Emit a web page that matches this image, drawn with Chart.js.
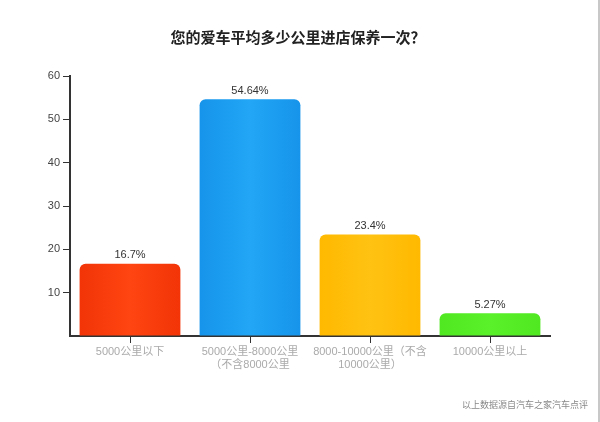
<!DOCTYPE html>
<html>
<head>
<meta charset="utf-8">
<script src="https://cdn.jsdelivr.net/npm/chart.js@4.4.1/dist/chart.umd.min.js"></script>
<style>
    html, body { margin: 0; padding: 0; background: #fff; }
    #wrap { position: relative; width: 600px; height: 422px; overflow: hidden; }
    #title {
        position: absolute; left: 0; top: 27px; width: 596px; text-align: center;
        font: bold 15px "Noto Sans CJK SC", sans-serif; color: #222; line-height: 20px;
    }
    #source {
        position: absolute; right: 12px; top: 398px;
        font: 9px "Noto Sans CJK SC", sans-serif; color: #888;
    }
    #edge { position: absolute; right: 0; top: 0; width: 2px; height: 422px; background: #c8c8c8; }
</style>
</head>
<body>
<div id="wrap">
    <canvas id="maintenance-chart" width="600" height="422"></canvas>
    <div id="title">您的爱车平均多少公里进店保养一次？</div>
    <div id="source">以上数据源自汽车之家汽车点评</div>
    <div id="edge"></div>
</div>
<script>
// Chart data
const categories = [
    ['5000公里以下'],
    ['5000公里-8000公里', '（不含8000公里'],
    ['8000-10000公里（不含', '10000公里）'],
    ['10000公里以上']
];
const shares = [16.7, 54.64, 23.4, 5.27];
const valueLabels = ['16.7%', '54.64%', '23.4%', '5.27%'];
const yTicks = [0, 10, 20, 30, 40, 50, 60];

// edge / centre colours for the bar shading
const edgeColors = ['#f23406', '#1694eb', '#ffb900', '#50e821'];
const centerColors = ['#ff4512', '#22a6f5', '#ffc212', '#5af02a'];
const barPct = 0.84;

function barFill(ctx) {
    const chart = ctx.chart;
    const i = ctx.dataIndex;
    if (!chart.chartArea || !chart.scales.x) return edgeColors[i];
    const xs = chart.scales.x;
    const cx = xs.getPixelForValue(i);
    const half = xs.width / categories.length * barPct / 2;
    const g = chart.ctx.createLinearGradient(cx - half, 0, cx + half, 0);
    g.addColorStop(0, edgeColors[i]);
    g.addColorStop(0.5, centerColors[i]);
    g.addColorStop(1, edgeColors[i]);
    return g;
}

// Value labels above the bars
const valueLabelPlugin = {
    id: 'valueLabels',
    afterDatasetsDraw(chart) {
        const ctx = chart.ctx;
        const meta = chart.getDatasetMeta(0);
        ctx.save();
        ctx.font = '11px "Liberation Sans", Arial, sans-serif';
        ctx.fillStyle = '#333';
        ctx.textAlign = 'center';
        ctx.textBaseline = 'bottom';
        meta.data.forEach(function(bar, i) {
            ctx.fillText(valueLabels[i], bar.x, bar.y - 3);
        });
        ctx.restore();
    }
};

const chart = new Chart(document.getElementById('maintenance-chart').getContext('2d'), {
    type: 'bar',
    data: {
        labels: categories,
        datasets: [{
            data: shares,
            backgroundColor: barFill,
            borderWidth: 0,
            borderRadius: { topLeft: 6, topRight: 6, bottomLeft: 0, bottomRight: 0 },
            borderSkipped: 'bottom',
            categoryPercentage: 1,
            barPercentage: barPct
        }]
    },
    options: {
        responsive: false,
        animation: false,
        layout: { padding: { top: 76, right: 50, bottom: 26, left: 0 } },
        plugins: {
            legend: { display: false },
            tooltip: { enabled: false },
            title: { display: false }
        },
        scales: {
            x: {
                afterFit: function(scale) { scale.height = 60; },
                grid: {
                    offset: false,
                    drawOnChartArea: false,
                    drawTicks: true,
                    tickLength: 7,
                    color: '#333'
                },
                border: { display: true, color: '#333', width: 2 },
                ticks: {
                    color: '#aaa',
                    padding: 3,
                    maxRotation: 0,
                    autoSkip: false,
                    font: { size: 11, family: '"Liberation Sans", "Noto Sans CJK SC", sans-serif', lineHeight: 1.15 }
                }
            },
            y: {
                min: 0,
                max: 60,
                afterFit: function(scale) { scale.width = 70; },
                afterBuildTicks: function(scale) {
                    scale.ticks = yTicks.map(function(v) { return { value: v }; });
                },
                grid: {
                    drawOnChartArea: false,
                    drawTicks: true,
                    tickLength: 7,
                    color: '#333',
                    tickColor: function(ctx) { return ctx.tick && ctx.tick.value === 0 ? 'rgba(0,0,0,0)' : '#333'; }
                },
                border: { display: true, color: '#333', width: 2 },
                ticks: {
                    color: '#444',
                    padding: 3,
                    font: { size: 11, family: '"Liberation Sans", Arial, sans-serif' },
                    callback: function(v) { return v === 0 ? '' : v; }
                }
            }
        }
    },
    plugins: [valueLabelPlugin]
});
</script>
</body>
</html>
